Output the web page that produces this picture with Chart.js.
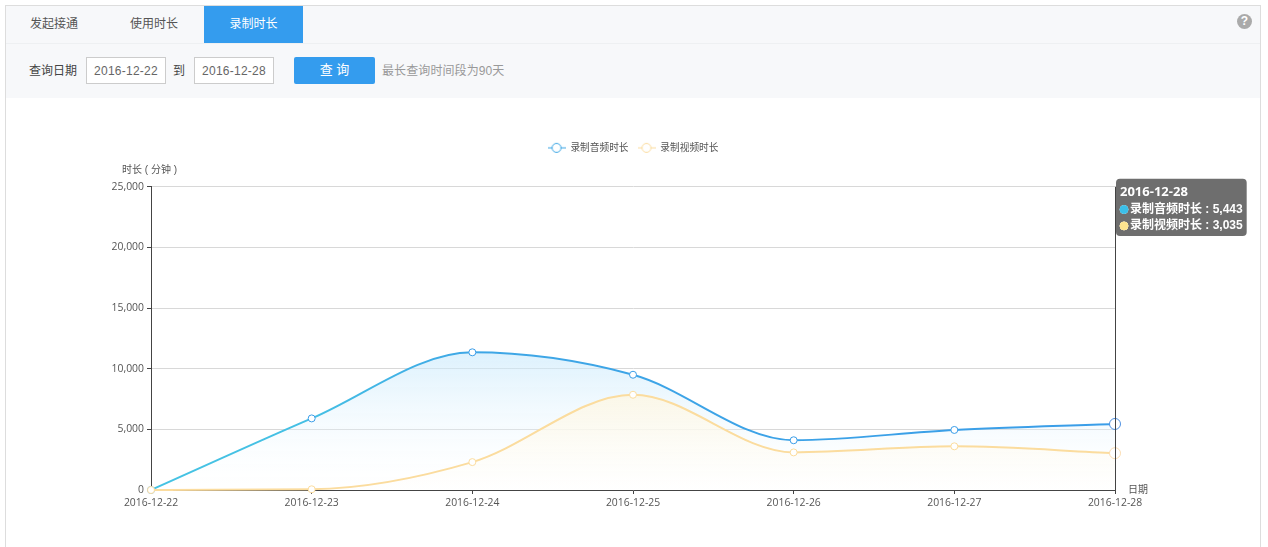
<!DOCTYPE html>
<html>
<head>
<meta charset="utf-8">
<title>录制时长</title>
<script src="https://cdn.jsdelivr.net/npm/chart.js@4"></script>
<style>
  html, body { margin: 0; padding: 0; background: #fff; overflow: hidden; }
  body { width: 1268px; height: 547px; position: relative; font: 12px Arial, "Liberation Sans", "Noto Sans CJK SC", sans-serif; color: #333; }
  .panel { position: absolute; left: 5px; top: 5px; width: 1254px; height: 542px; border: 1px solid #ddd; border-bottom: 0; }
  .head { position: absolute; left: 6px; top: 6px; width: 1254px; height: 92px; background: #f7f8fa; }
  .tabline { position: absolute; left: 0; top: 37px; width: 100%; height: 1px; background: #eef0f2; }
  .tab { position: absolute; top: 0; width: 100px; height: 37px; line-height: 37px; text-align: center; color: #555; }
  .tab.on { background: #349cee; color: #fff; left: 198px; width: 99px; }
  .txt { position: absolute; line-height: 29px; top: 51px; }
  .inp { position: absolute; top: 51px; width: 78px; height: 25px; line-height: 27px; border: 1px solid #ccc; background: #fff; color: #666; text-align: center; letter-spacing: 0.25px; }
  .btn { position: absolute; left: 288px; top: 51px; width: 81px; height: 27px; line-height: 26px; background: #349cee; color: #fff; text-align: center; border-radius: 2px; font-size: 13px; }
  .help { position: absolute; left: 1231px; top: 8px; width: 15px; height: 15px; line-height: 15px; border-radius: 50%; background: #aaa; color: #fff; text-align: center; font-weight: bold; font-size: 12px; }
  .chartbox { position: absolute; left: 6px; top: 98px; width: 1254px; height: 449px; }
</style>
</head>
<body>
<div class="panel"></div>
<div class="head">
  <div class="tabline"></div>
  <div class="tab" style="left:-2px">发起接通</div>
  <div class="tab" style="left:98px">使用时长</div>
  <div class="tab on">录制时长</div>
  <div class="help">?</div>
  <div class="txt" style="left:23px;color:#444">查询日期</div>
  <div class="inp" style="left:80px">2016-12-22</div>
  <div class="txt" style="left:167px;color:#444">到</div>
  <div class="inp" style="left:188px">2016-12-28</div>
  <div class="btn">查 询</div>
  <div class="txt" style="left:376px;color:#999;letter-spacing:0.1px">最长查询时间段为90天</div>
</div>
<div class="chartbox"><canvas id="myChart" width="1254" height="449"></canvas></div>

<script>
const dates = ["2016-12-22", "2016-12-23", "2016-12-24", "2016-12-25", "2016-12-26", "2016-12-27", "2016-12-28"];
const audioValues = [0, 5900, 11350, 9500, 4100, 4950, 5443];
const videoValues = [0, 60, 2300, 7850, 3100, 3600, 3035];
const yTicks = [0, 5000, 10000, 15000, 20000, 25000];
const audioName = "录制音频时长";
const videoName = "录制视频时长";
const fontFamily = 'Arial, "Liberation Sans", "Noto Sans CJK SC", sans-serif';
const tickFamily = '"Open Sans", Arial, sans-serif';

// legend marker: short line with a circle on it
function legendIcon(color) {
  const c = document.createElement("canvas");
  c.width = 18;
  c.height = 12;
  const g = c.getContext("2d");
  g.strokeStyle = color;
  g.beginPath();
  g.moveTo(0, 6);
  g.lineTo(18, 6);
  g.stroke();
  g.fillStyle = "#fff";
  g.beginPath();
  g.arc(9, 6, 4.5, 0, Math.PI * 2);
  g.fill();
  g.stroke();
  return c;
}

function fillGradient(context, top, bottom) {
  const { chart } = context;
  if (!chart.chartArea) return top;
  const y = chart.scales.y;
  const values = context.dataset.data;
  const grad = chart.ctx.createLinearGradient(0, y.getPixelForValue(Math.max(...values)), 0, y.bottom);
  grad.addColorStop(0, top);
  grad.addColorStop(1, bottom);
  return grad;
}

function audioStroke(context) {
  const { chart } = context;
  if (!chart.chartArea) return "#3a9de8";
  const a = chart.chartArea;
  const grad = chart.ctx.createLinearGradient(a.left, 0, a.right, 0);
  grad.addColorStop(0, "#45c3e3");
  grad.addColorStop(0.17, "#45bfe4");
  grad.addColorStop(0.33, "#3ea7e6");
  grad.addColorStop(1, "#3a9de8");
  return grad;
}

//tooltip sits to the right of the last point
Chart.Tooltip.positioners.rightOfPlot = function () {
  const a = this.chart.chartArea;
  return { x: a.right + 5, y: a.top - 8 };
};

const axisExtras = {
  id: "axisExtras",
  afterDatasetsDraw(chart) {
    const { ctx, chartArea } = chart;
    const active = chart.getActiveElements();
    if (active.length) {
      ctx.save();
      ctx.strokeStyle = "#444";
      ctx.lineWidth = 1;
      ctx.beginPath();
      ctx.moveTo(Math.round(active[0].element.x) + 0.5, chartArea.top);
      ctx.lineTo(Math.round(active[0].element.x) + 0.5, chartArea.bottom);
      ctx.stroke();
      ctx.restore();
    }
  },
  afterDraw(chart) {
    const { ctx, chartArea } = chart;
    ctx.save();
    ctx.font = "10px " + fontFamily;
    ctx.fillStyle = "#555";
    ctx.textBaseline = "middle";
    ctx.fillText("时长 ( 分钟 )", chartArea.left - 29, chartArea.top - 16);
    ctx.fillText("日期", chartArea.right + 13, chartArea.bottom);
    ctx.restore();
  },
};

const ctx = document.getElementById("myChart").getContext("2d");
const myChart = new Chart(ctx, {
  type: "line",
  plugins: [axisExtras],
  data: {
    labels: dates,
    datasets: [
      {
        label: audioName,
        data: audioValues,
        order: 1,
        borderColor: audioStroke,
        borderWidth: 2,
        fill: "origin",
        backgroundColor: (c) => fillGradient(c, "rgba(198,232,252,0.6)", "rgba(255,255,255,0.1)"),
        cubicInterpolationMode: "monotone",
        clip: false,
        pointRadius: 3.5,
        pointBorderWidth: 1,
        pointBorderColor: "#3a9de8",
        pointBackgroundColor: "#fff",
        pointHoverRadius: 5.5,
        pointHoverBorderWidth: 1,
        pointHoverBorderColor: "#4c90e2",
        pointHoverBackgroundColor: "#fff",
      },
      {
        label: videoName,
        data: videoValues,
        order: 0,
        borderColor: "#fbdc9e",
        borderWidth: 2,
        fill: "origin",
        backgroundColor: (c) => fillGradient(c, "rgba(253,247,228,0.85)", "rgba(255,255,255,0.6)"),
        cubicInterpolationMode: "monotone",
        clip: false,
        pointRadius: 3.5,
        pointBorderWidth: 1,
        pointBorderColor: "#fbdc9e",
        pointBackgroundColor: "#fff",
        pointHoverRadius: 5.5,
        pointHoverBorderWidth: 1,
        pointHoverBorderColor: "#fbdcb0",
        pointHoverBackgroundColor: "#fff",
      },
    ],
  },
  options: {
    responsive: false,
    animation: false,
    layout: { padding: { left: 100, right: 145, top: 36, bottom: 0 } },
    interaction: { mode: "index", intersect: false },
    scales: {
      x: {
        offset: false,
        afterFit(scale) {
          scale.height = 57;
        },
        border: { color: "#444" },
        grid: { drawOnChartArea: false, tickColor: "#444", tickLength: 4 },
        ticks: {
          autoSkip: false,
          maxRotation: 0,
          color: "#555",
          padding: 3,
          font: { size: 10.4, family: tickFamily },
        },
      },
      y: {
        min: 0,
        max: 25000,
        afterBuildTicks(scale) {
          scale.ticks = yTicks.map((value) => ({ value }));
        },
        afterFit(scale) {
          scale.width = 45;
        },
        border: { color: "#444" },
        grid: { color: "#d8d8d8", tickColor: "#444", tickLength: 4 },
        ticks: {
          color: "#555",
          padding: 3,
          font: { size: 10.4, family: tickFamily },
          callback: (value) => value.toLocaleString("en-US"),
        },
      },
    },
    plugins: {
      title: {
        // empty spacer between the legend and the plot
        display: true,
        text: "",
        font: { size: 10 },
        padding: { top: 0, bottom: 12 },
      },
      legend: {
        weight: 3000,
        fullSize: false,
        labels: {
          color: "#555",
          font: { size: 9.7, family: fontFamily },
          usePointStyle: true,
          pointStyleWidth: 18,
          padding: 9,
          generateLabels() {
            return [
              { text: audioName, pointStyle: legendIcon("#3aa5e4"), datasetIndex: 0, fontColor: "#555", lineWidth: 0 },
              { text: videoName, pointStyle: legendIcon("#fbdc9e"), datasetIndex: 1, fontColor: "#555", lineWidth: 0 },
            ];
          },
        },
      },
      tooltip: {
        position: "rightOfPlot",
        xAlign: "left",
        yAlign: "top",
        caretSize: 0,
        caretPadding: 0,
        cornerRadius: 4,
        padding: { left: 4, right: 4, top: 6, bottom: 3 },
        backgroundColor: "rgba(90,90,90,0.88)",
        titleColor: "#fff",
        bodyColor: "#fff",
        titleFont: { size: 13, weight: "bold", family: tickFamily },
        bodyFont: { size: 12, weight: "bold", family: fontFamily },
        titleMarginBottom: 2,
        bodySpacing: 2,
        usePointStyle: true,
        boxWidth: 8,
        boxHeight: 8,
        boxPadding: 0,
        callbacks: {
          label: (item) => item.dataset.label + " : " + item.parsed.y.toLocaleString("en-US"),
          labelColor: (item) => {
            const c = item.datasetIndex === 0 ? "#3bbfe8" : "#fde48f";
            return { borderColor: c, backgroundColor: c };
          },
          labelPointStyle: () => ({ pointStyle: "circle", rotation: 0 }),
        },
      },
    },
  },
});

//keep the last date highlighted, like the screenshot
const lastIndex = dates.length - 1;
const activeItems = [
  { datasetIndex: 0, index: lastIndex },
  { datasetIndex: 1, index: lastIndex },
];
myChart.setActiveElements(activeItems);
myChart.tooltip.setActiveElements(activeItems, { x: 0, y: 0 });
myChart.update();
</script>
</body>
</html>
